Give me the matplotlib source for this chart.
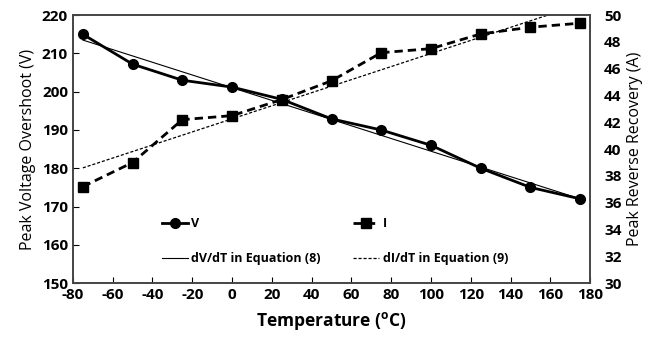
"""Peak voltage overshoot and peak reverse recovery current vs temperature"""
import matplotlib
matplotlib.use("Agg")
import matplotlib.pyplot as plt

plt.rcParams['font.family'] = ['Open Sans', 'DejaVu Sans']
plt.rcParams['axes.unicode_minus'] = False

TEMPS = [-75, -50, -25, 0, 25, 50, 75, 100, 125, 150, 175]
VOLTAGE = [215, 207.2, 203, 201.2, 198, 192.9, 190, 186, 180, 175, 172]
CURRENT = [37.2, 39.0, 42.2, 42.5, 43.7, 45.1, 47.2, 47.5, 48.6, 49.1, 49.4]

# end points of the two fitted lines (Eq. 8 and Eq. 9)
FIT_T = [-75, 175]
FIT_V = [213.5, 172]
FIT_I = [38.6, 50.8]

X_TICKS = list(range(-80, 181, 20))
V_TICKS = list(range(150, 221, 10))
I_TICKS = list(range(30, 51, 2))

fig = plt.figure(figsize=(6.45, 3.37), dpi=100)
ax = fig.add_axes([0.113, 0.160, 0.802, 0.795])
ax2 = ax.twinx()

l_v, = ax.plot(TEMPS, VOLTAGE, color='black', lw=2, marker='o', ms=7, label='V')
l_fv, = ax.plot(FIT_T, FIT_V, color='black', lw=0.8, label='dV/dT in Equation (8)')
l_i, = ax2.plot(TEMPS, CURRENT, color='black', lw=2, ls=(0, (3, 1.8)), marker='s', ms=6.5,
                label='I')
l_fi, = ax2.plot(FIT_T, FIT_I, color='black', lw=0.9, ls=(0, (2.5, 1.5)),
                 label='dI/dT in Equation (9)')

ax.set_xlim(-80, 180)
ax.set_ylim(150, 220)
ax2.set_ylim(30, 50)
tick_font = {'fontsize': 11, 'fontweight': 'bold'}
ax.set_xticks(X_TICKS, [str(t) for t in X_TICKS], **tick_font)
ax.set_yticks(V_TICKS, [str(t) for t in V_TICKS], **tick_font)
ax2.set_yticks(I_TICKS, [str(t) for t in I_TICKS], **tick_font)

ax.tick_params(axis='both', direction='in', length=4, width=0.8)
ax2.tick_params(axis='y', length=0, pad=10)
for a in (ax, ax2):
    for sp in a.spines.values():
        sp.set_color('#444444')
        sp.set_linewidth(1.2)

ax.set_xlabel('Temperature ($\\mathregular{^{o}}$C)', fontsize=12.5, fontweight='bold',
              labelpad=6)
ax.set_ylabel('Peak Voltage Overshoot (V)', fontsize=11.5)
ax2.set_ylabel('Peak Reverse Recovery (A)', fontsize=11.5)

# column-major order so rows read: V | I  and  fits
ax.legend(handles=[l_v, l_fv, l_i, l_fi], ncol=2, frameon=False,
          loc='upper left', bbox_to_anchor=(0.172, 0.245), borderpad=0,
          borderaxespad=0, prop={'weight': 'bold', 'size': 9},
          handlelength=2.1, handletextpad=0.25, columnspacing=2.6, labelspacing=1.75)

fig.savefig('out.png', dpi=100)
